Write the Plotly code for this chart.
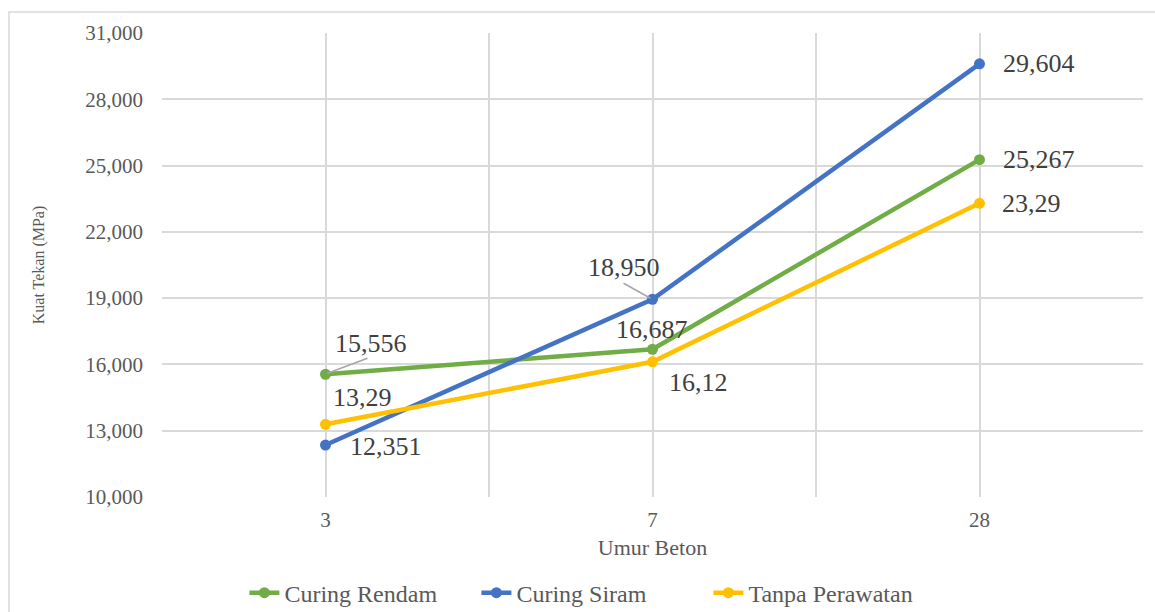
import plotly.graph_objects as go

# Concrete age (days) on the x axis
umur = ["3", "7", "28"]

# Compressive strength (MPa) per curing method
curing_rendam = [15.556, 16.687, 25.267]
curing_siram = [12.351, 18.950, 29.604]
tanpa_perawatan = [13.29, 16.12, 23.29]

# Data-label text for each point
label_rendam = ["15,556", "16,687", "25,267"]
label_siram = ["12,351", "18,950", "29,604"]
label_tanpa = ["13,29", "16,12", "23,29"]

y_ticks = [10, 13, 16, 19, 22, 25, 28, 31]

FONT = "Liberation Serif, Times New Roman, DejaVu Serif, serif"
GREEN = "#70AD47"
BLUE = "#4472C4"
GOLD = "#FFC000"
GRID = "#D9D9D9"
TEXT = "#595959"
LABEL = "#404040"

xs = list(range(len(umur)))

fig = go.Figure()
series = [
    ("Curing Rendam", curing_rendam, GREEN),
    ("Curing Siram", curing_siram, BLUE),
    ("Tanpa Perawatan", tanpa_perawatan, GOLD),
]
for name, vals, col in series:
    fig.add_trace(go.Scatter(
        x=xs, y=vals, name=name, mode="lines+markers",
        line=dict(color=col, width=4.5),
        marker=dict(color=col, size=11),
        cliponaxis=False,
    ))

# Pixel offsets of each data label from its point (dx right, dy up)
offsets = {
    "rendam": [(45, 31), (-1, 20), (59, 0)],
    "siram": [(60, -1), (-29, 32), (59, 0)],
    "tanpa": [(37, 27), (46, -21), (52, 0)],
}
annotations = []
for key, vals, texts in [
    ("rendam", curing_rendam, label_rendam),
    ("siram", curing_siram, label_siram),
    ("tanpa", tanpa_perawatan, label_tanpa),
]:
    for i, (v, t) in enumerate(zip(vals, texts)):
        dx, dy = offsets[key][i]
        annotations.append(dict(
            x=xs[i], y=v, text=t, showarrow=False,
            xanchor="center", yanchor="middle",
            xshift=dx, yshift=dy,
            font=dict(family=FONT, size=26, color=LABEL),
        ))

# Leader lines from the shifted labels back to their points
shapes = [
    dict(type="line", xref="x", yref="y", xsizemode="pixel", ysizemode="pixel",
         xanchor=xs[0], yanchor=curing_rendam[0],
         x0=2, y0=1, x1=42, y1=16, line=dict(color="#A6A6A6", width=1.5)),
    dict(type="line", xref="x", yref="y", xsizemode="pixel", ysizemode="pixel",
         xanchor=xs[1], yanchor=curing_siram[1],
         x0=-2, y0=1, x1=-29, y1=16, line=dict(color="#A6A6A6", width=1.5)),
    # outer chart border
    dict(type="rect", xref="paper", yref="paper",
         x0=-0.156, y0=-0.27, x1=1.03, y1=1.045,
         line=dict(color="#D9D9D9", width=1.5), layer="below"),
]

fig.update_layout(
    width=1155, height=612,
    margin=dict(l=162, r=12, t=33, b=115, autoexpand=False),
    paper_bgcolor="white", plot_bgcolor="white",
    separators=",.",
    font=dict(family=FONT, color=TEXT),
    showlegend=True,
    legend=dict(
        orientation="h", x=0.084, xanchor="left", y=-0.207, yanchor="middle",
        font=dict(family=FONT, size=24, color=TEXT),
        entrywidth=187, entrywidthmode="pixels",
    ),
    annotations=annotations,
    shapes=shapes,
    xaxis=dict(
        range=[-0.5, 2.5], tickmode="array", tickvals=xs, ticktext=umur,
        showgrid=True, gridcolor=GRID, gridwidth=1.5,
        minor=dict(tickmode="array", tickvals=[-0.5, 0.5, 1.5, 2.5],
                   showgrid=True, gridcolor=GRID, gridwidth=1.5),
        zeroline=False, showline=False, ticks="",
        tickfont=dict(family=FONT, size=21, color=TEXT),
        ticklabelstandoff=8,
        title=dict(text="Umur Beton", standoff=8,
                   font=dict(family=FONT, size=22, color=TEXT)),
        fixedrange=True,
    ),
    yaxis=dict(
        range=[10, 31], tickmode="array", tickvals=y_ticks,
        tickformat=".3f",
        showgrid=True, gridcolor=GRID, gridwidth=1.5,
        zeroline=False, showline=False, ticks="",
        tickfont=dict(family=FONT, size=21, color=TEXT),
        ticklabelstandoff=18,
        title=dict(text="Kuat Tekan (MPa)", standoff=36,
                   font=dict(family=FONT, size=16, color=TEXT)),
        fixedrange=True,
    ),
)

fig.write_html("out.html")
